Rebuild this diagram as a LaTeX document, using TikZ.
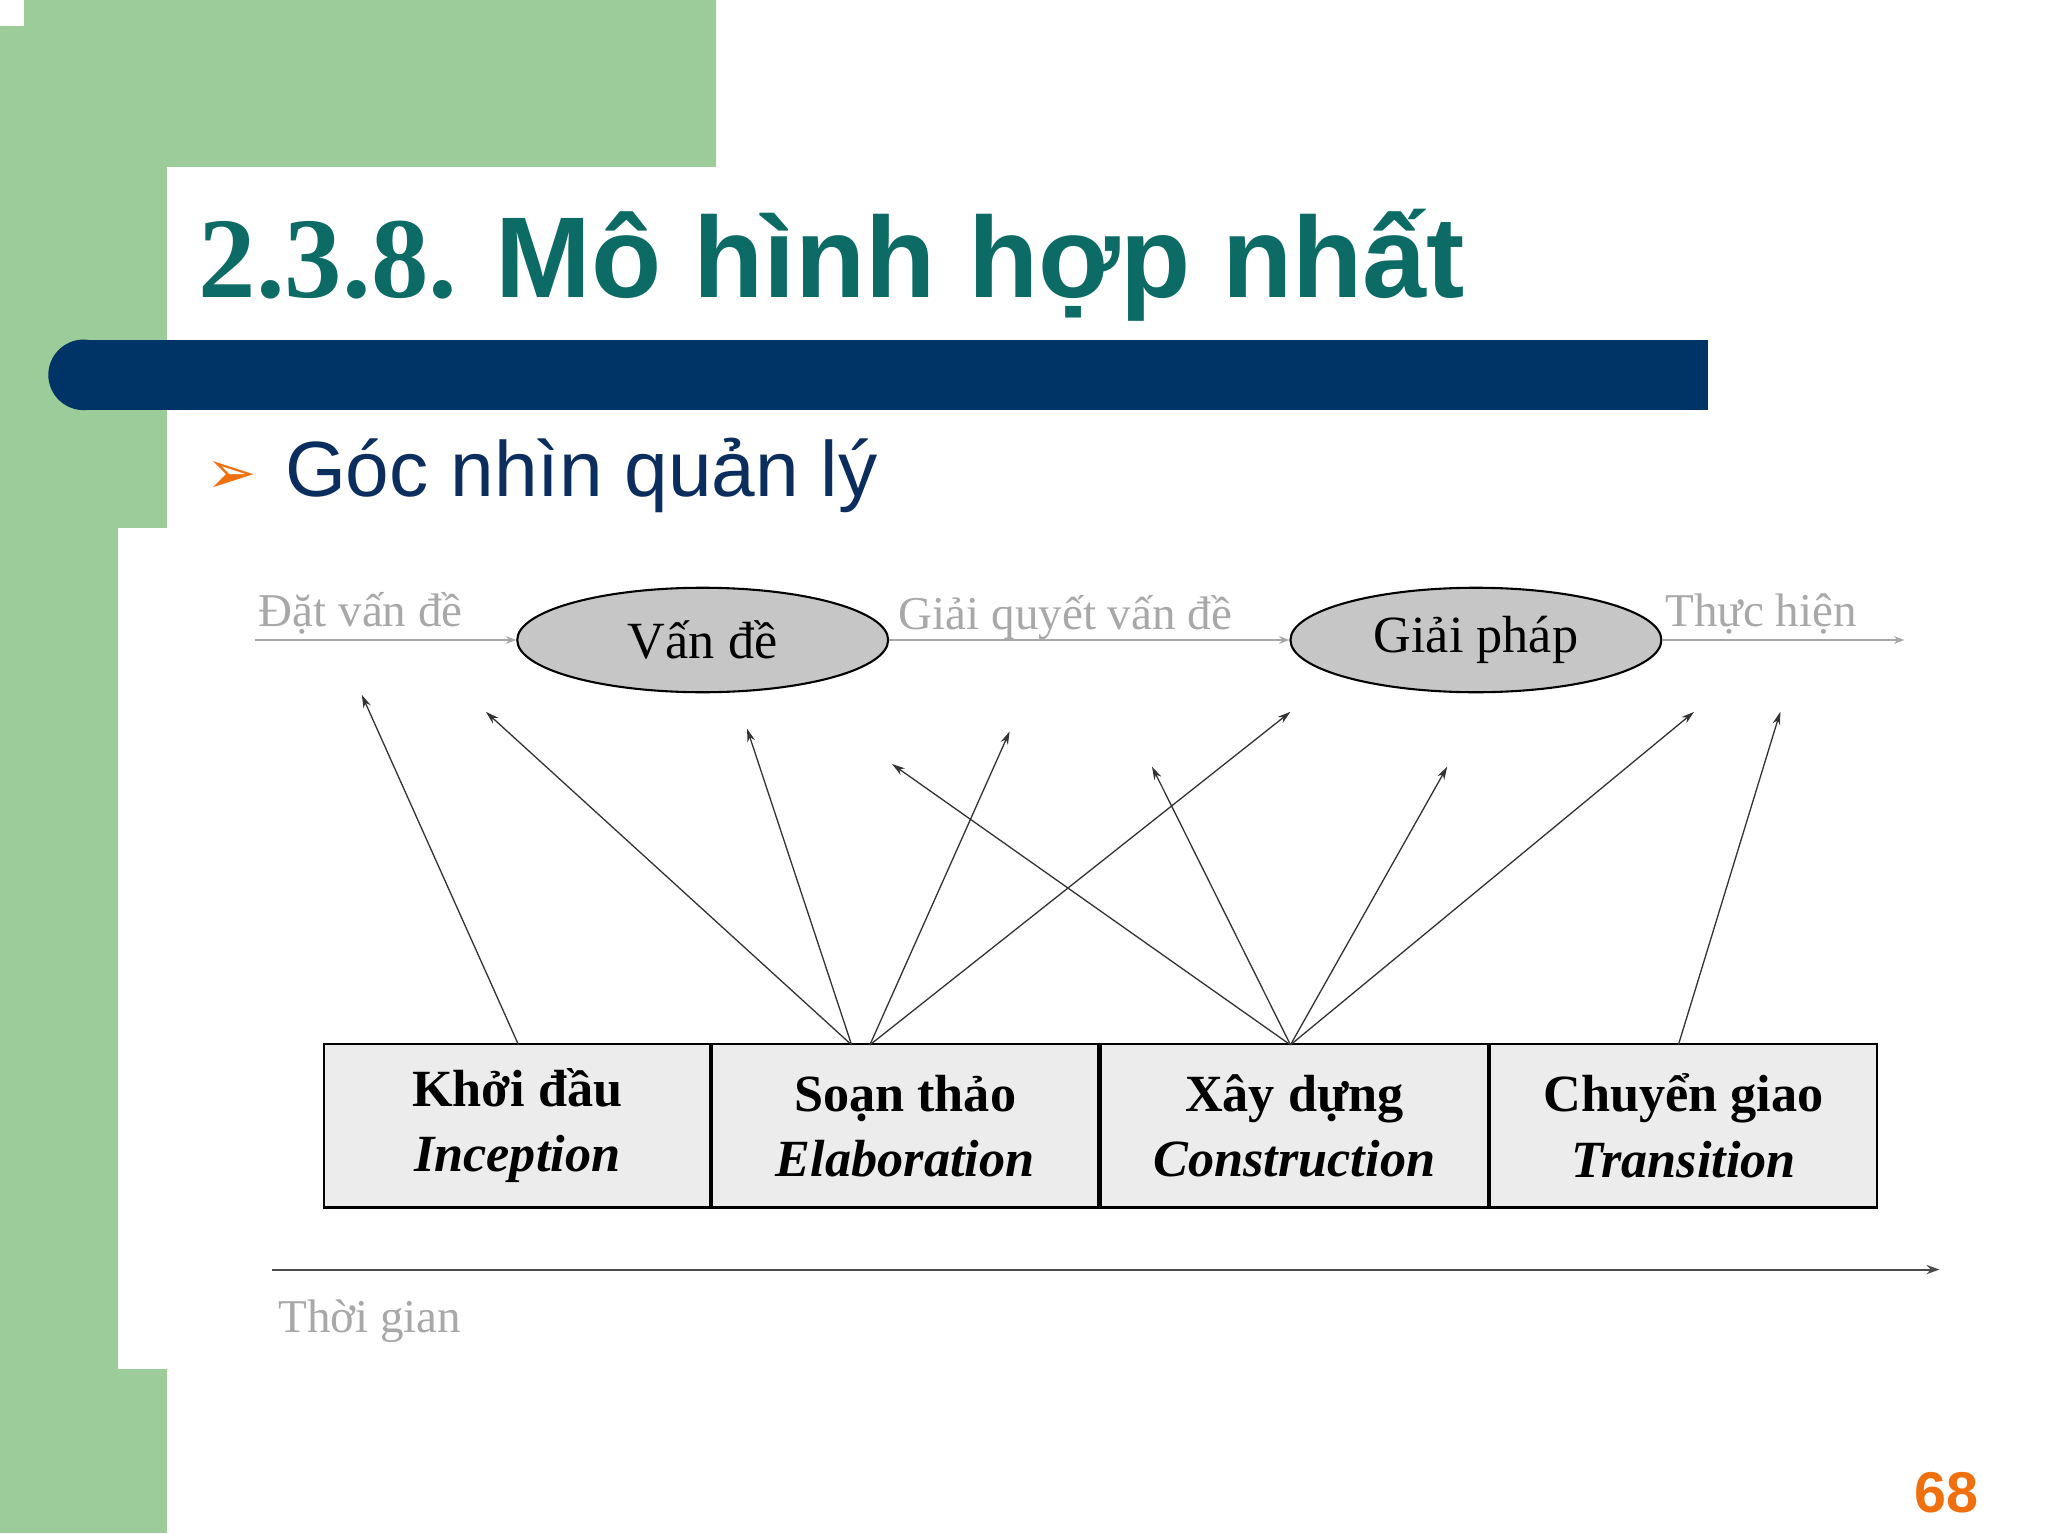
\documentclass[tikz,border=0pt]{standalone}
\usepackage{fontspec}
\setmainfont{Liberation Serif}
\newfontfamily\hsans{Liberation Sans}
\newfontfamily\dsym{DejaVu Sans}
\usetikzlibrary{arrows.meta}
\definecolor{sgreen}{HTML}{9BCC9A}
\definecolor{tealt}{HTML}{0D6B66}
\definecolor{navyb}{HTML}{003366}
\definecolor{navyt}{HTML}{0B2E5E}
\definecolor{orng}{HTML}{F07010}
\definecolor{lbl}{HTML}{A8A8A8}
\tikzset{
  phase/.style={draw=black,line width=1.8pt,fill=gray!15,minimum width=296pt,minimum height=125pt,inner sep=0pt,align=center,font=\fontsize{40}{50}\selectfont},
  goal/.style={draw=black,line width=1.6pt,fill=gray!45,ellipse,minimum width=284pt,minimum height=80pt,font=\fontsize{40}{48}\selectfont},
  glabel/.style={text=lbl,font=\fontsize{36}{40}\selectfont,inner sep=0pt},
  conn/.style={-{Stealth[length=10pt,width=6pt]},line width=1pt,draw=black!80}
}
\usetikzlibrary{shapes.geometric}
\begin{document}
\begin{tikzpicture}[x=1pt,y=-1pt]
\useasboundingbox (0,0) rectangle (1568,1174);
\fill[white] (0,0) rectangle (1568,1174);
\fill[sgreen] (0,0) rectangle (548,128);
\fill[sgreen] (0,0) rectangle (128,1174);
\fill[white] (0,0) rectangle (18,20);
\fill[white,rounded corners=50pt] (128,128) rectangle (700,600);
\fill[white] (128,200) rectangle (700,1174);
\fill[white] (300,128) rectangle (700,600);
\fill[white] (90,404) rectangle (140,1048);
% title
\node[anchor=base west,inner sep=0pt,text=tealt] (title) at (152,228)
  {\fontsize{88}{96}\selectfont\bfseries 2.3.8. {\hsans\bfseries Mô hình hợp nhất}};
\fill[navyb] (64,260) rectangle (1308,314);
\fill[navyb] (64,287) ellipse [x radius=27, y radius=27];
\node[anchor=base west,inner sep=0pt,text=orng] (bul) at (158,378) {\dsym\fontsize{46}{50}\selectfont ➢};
\node[anchor=base west,inner sep=0pt,text=navyt] (sub) at (218,380) {\hsans\fontsize{60}{66}\selectfont Góc nhìn quản lý};
% top flow
\coordinate (s) at (195,490);
\coordinate (e) at (1458,490);
\node[goal] (v) at (538,490) {Vấn đề};
\node[goal] (g) at (1130,490) {Giải pháp};
\draw[line width=1pt,draw=lbl,-{Stealth[length=8pt,width=6pt]}] (s) -- (v.west);
\draw[line width=1pt,draw=lbl,-{Stealth[length=8pt,width=6pt]}] (v.east) -- (g.west);
\draw[line width=1pt,draw=lbl,-{Stealth[length=8pt,width=6pt]}] (g.east) -- (e);
\node[glabel,anchor=base west] (l1) at (198,480) {Đặt vấn đề};
\node[glabel,anchor=base west] (l2) at (688,482) {Giải quyết vấn đề};
\node[glabel,anchor=base west] (l3) at (1275,480) {Thực hiện};
% phases
\node[phase] (p1) at (396,862) {\textbf{Khởi đầu}\\\textbf{\textit{Inception}}};
\node[phase] (p2) at (693,862) {\textbf{Soạn thảo}\\\textbf{\textit{Elaboration}}};
\node[phase] (p3) at (991,862) {\textbf{Xây dựng}\\\textbf{\textit{Construction}}};
\node[phase] (p4) at (1289,862) {\textbf{Chuyển giao}\\\textbf{\textit{Transition}}};
% arrows
\coordinate (a1) at (277,532);
\coordinate (a2) at (372,545);
\coordinate (a3) at (572,558);
\coordinate (a4) at (773,560);
\coordinate (a5) at (988,545);
\coordinate (a6) at (683,585);
\coordinate (a7) at (882,587);
\coordinate (a8) at (1108,587);
\coordinate (a9) at (1297,545);
\coordinate (a10) at (1363,545);
\coordinate (o1) at (397,800);
\coordinate (o2) at (652,800);
\coordinate (o2b) at (666,800);
\coordinate (o3) at (988,800);
\coordinate (o4) at (1285,800);
\draw[conn] (o1) -- (a1);
\draw[conn] (o2) -- (a2);
\draw[conn] (o2) -- (a3);
\draw[conn] (o2b) -- (a4);
\draw[conn] (o2b) -- (a5);
\draw[conn] (o3) -- (a6);
\draw[conn] (o3) -- (a7);
\draw[conn] (o3) -- (a8);
\draw[conn] (o3) -- (a9);
\draw[conn] (o4) -- (a10);
% time axis
\coordinate (t0) at (208,972);
\coordinate (t1) at (1485,972);
\draw[line width=1.5pt,draw=black!70,-{Stealth[length=10pt,width=7pt]}] (t0) -- (t1);
\node[glabel,anchor=base west] (tg) at (213,1020) {Thời gian};
\node[anchor=base east,inner sep=0pt,text=orng] (pg) at (1515,1158) {\hsans\bfseries\fontsize{44}{48}\selectfont 68};
\end{tikzpicture}
\end{document}
